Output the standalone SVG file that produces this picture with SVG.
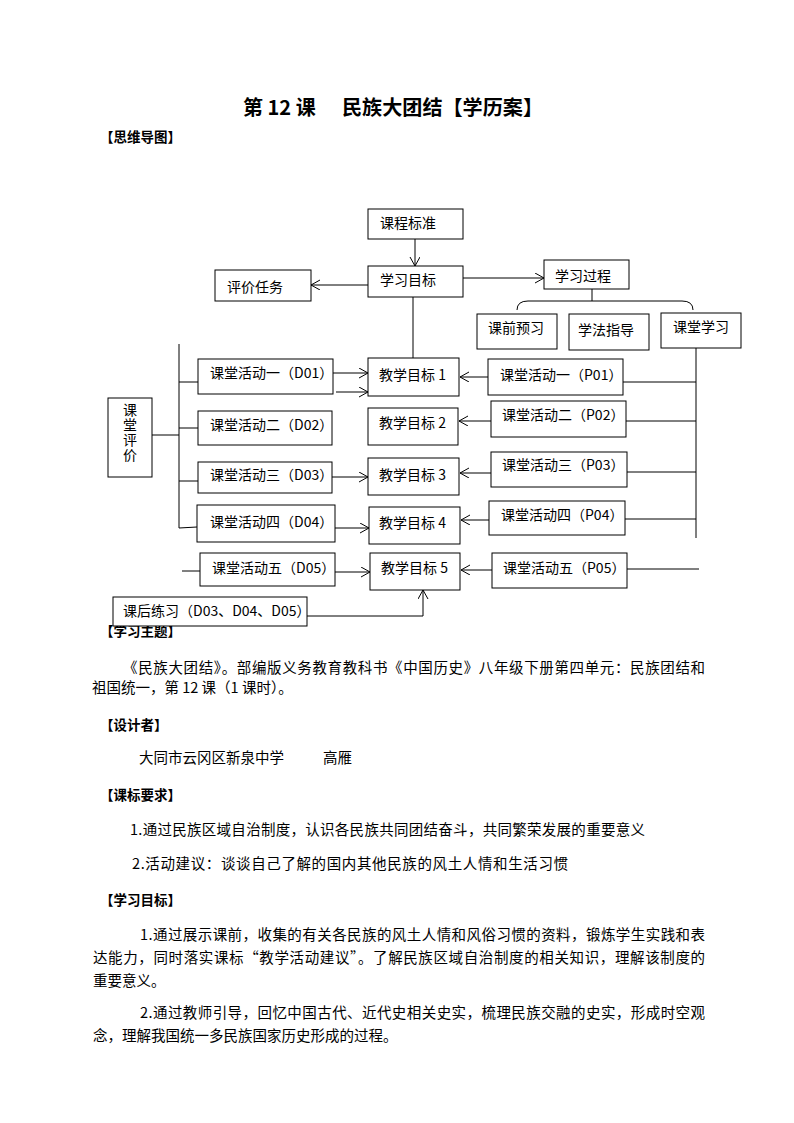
<svg xmlns="http://www.w3.org/2000/svg" width="794" height="1123" viewBox="0 0 794 1123">
<defs>
<style>
.t{font-family:"Noto Sans CJK SC","Liberation Sans",sans-serif;font-size:14px;fill:#000}
.b{font-family:"Noto Sans CJK SC","Liberation Sans",sans-serif;font-size:14.5px;fill:#000}
.h{font-family:"Noto Sans CJK SC","Liberation Sans",sans-serif;font-size:13.5px;font-weight:bold;fill:#000}
.ti{font-family:"Noto Sans CJK SC","Liberation Sans",sans-serif;font-size:20px;font-weight:bold;fill:#000}
.v{writing-mode:vertical-rl;text-orientation:upright;letter-spacing:1px}
.box{fill:#fff;stroke:#000;stroke-width:1}
.ln{fill:none;stroke:#000;stroke-width:1}
.ar{fill:none;stroke:#000;stroke-width:1;marker-end:url(#arr)}
</style>
<marker id="arr" markerUnits="userSpaceOnUse" markerWidth="12" markerHeight="12" refX="9" refY="5" orient="auto">
<path d="M0,0 L9,5 L0,10" fill="none" stroke="#000" stroke-width="1"/>
</marker>
</defs>
<rect width="794" height="1123" fill="#fff"/>

<g id="title">
<text class="ti" x="243" y="115">第 12 课</text>
<text class="ti" x="342" y="115" textLength="201" lengthAdjust="spacingAndGlyphs">民族大团结【学历案】</text>
</g>

<g id="body-text">
<text class="h" x="100" y="142">【思维导图】</text>
<text class="h" x="100" y="636">【学习主题】</text>
<text class="b" x="123" y="673" textLength="582" lengthAdjust="spacing">《民族大团结》。部编版义务教育教科书《中国历史》八年级下册第四单元：民族团结和</text>
<text class="b" x="92" y="693">祖国统一，第 12 课（1 课时）。</text>
<text class="h" x="100" y="730">【设计者】</text>
<text class="b" x="139" y="763">大同市云冈区新泉中学</text>
<text class="b" x="323" y="763">高雁</text>
<text class="h" x="100" y="800">【课标要求】</text>
<text class="b" x="130" y="835" textLength="515" lengthAdjust="spacing">1.通过民族区域自治制度，认识各民族共同团结奋斗，共同繁荣发展的重要意义</text>
<text class="b" x="132" y="869" textLength="436" lengthAdjust="spacing">2.活动建议：谈谈自己了解的国内其他民族的风土人情和生活习惯</text>
<text class="h" x="100" y="905">【学习目标】</text>
<text class="b" x="140" y="940" textLength="565" lengthAdjust="spacing">1.通过展示课前，收集的有关各民族的风土人情和风俗习惯的资料，锻炼学生实践和表</text>
<text class="b" x="93" y="963" textLength="612" lengthAdjust="spacing">达能力，同时落实课标“教学活动建议”。了解民族区域自治制度的相关知识，理解该制度的</text>
<text class="b" x="93" y="986">重要意义。</text>
<text class="b" x="140" y="1018" textLength="565" lengthAdjust="spacing">2.通过教师引导，回忆中国古代、近代史相关史实，梳理民族交融的史实，形成时空观</text>
<text class="b" x="93" y="1041">念，理解我国统一多民族国家历史形成的过程。</text>
</g>

<g id="connectors">
<line class="ar" x1="415" y1="239" x2="415" y2="266"/>
<line class="ar" x1="368" y1="285" x2="311" y2="285"/>
<line class="ar" x1="463" y1="278" x2="544" y2="278"/>
<line class="ln" x1="413" y1="297" x2="413" y2="358"/>
<line class="ln" x1="592" y1="289" x2="592" y2="301"/>
<path class="ln" d="M517,310 Q517,301 528,301 L682,301 Q693,301 693,310"/>
<line class="ln" x1="696" y1="348" x2="696" y2="538"/>
<line class="ln" x1="623" y1="382" x2="696" y2="382"/>
<line class="ln" x1="626" y1="421" x2="696" y2="421"/>
<line class="ln" x1="627" y1="472" x2="696" y2="472"/>
<line class="ln" x1="625" y1="519" x2="696" y2="519"/>
<line class="ln" x1="627" y1="569" x2="699" y2="569"/>
<line class="ar" x1="488" y1="377" x2="460" y2="377"/>
<line class="ar" x1="491" y1="421" x2="459" y2="421"/>
<line class="ar" x1="491" y1="473" x2="460" y2="473"/>
<line class="ar" x1="489" y1="520" x2="461" y2="520"/>
<line class="ar" x1="492" y1="570" x2="461" y2="570"/>
<line class="ln" x1="179" y1="344" x2="179" y2="528"/>
<line class="ln" x1="179" y1="382" x2="198" y2="382"/>
<line class="ln" x1="179" y1="428" x2="198" y2="428"/>
<line class="ln" x1="179" y1="481" x2="198" y2="481"/>
<line class="ln" x1="179" y1="528" x2="197" y2="527"/>
<line class="ln" x1="182" y1="571" x2="200" y2="571"/>
<line class="ln" x1="152" y1="435" x2="179" y2="435"/>
<line class="ar" x1="333" y1="373" x2="368" y2="373"/>
<line class="ar" x1="336" y1="392" x2="368" y2="392"/>
<line class="ar" x1="332" y1="477" x2="368" y2="477"/>
<line class="ar" x1="335" y1="528" x2="369" y2="528"/>
<line class="ar" x1="335" y1="572" x2="370" y2="572"/>
<polyline class="ar" points="307,616 423,616 423,590"/>
</g>

<g id="n-kcbz"><rect class="box" x="368" y="209" width="95" height="30"/><text class="t" x="380" y="228">课程标准</text></g>
<g id="n-xxmb"><rect class="box" x="368" y="266" width="95" height="31"/><text class="t" x="380" y="285">学习目标</text></g>
<g id="n-pjrw"><rect class="box" x="215" y="270" width="96" height="31"/><text class="t" x="227" y="292">评价任务</text></g>
<g id="n-xxgc"><rect class="box" x="544" y="260" width="85" height="29"/><text class="t" x="555" y="281">学习过程</text></g>
<g id="n-kqyx"><rect class="box" x="477" y="314" width="80" height="35"/><text class="t" x="488" y="333">课前预习</text></g>
<g id="n-xfzd"><rect class="box" x="569" y="314" width="80" height="36"/><text class="t" x="578" y="335">学法指导</text></g>
<g id="n-ktxx"><rect class="box" x="661" y="313" width="80" height="35"/><text class="t" x="673" y="332">课堂学习</text></g>
<g id="n-p01"><rect class="box" x="488" y="359" width="135" height="36"/><text class="t" x="500" y="380">课堂活动一（P01）</text></g>
<g id="n-p02"><rect class="box" x="491" y="401" width="135" height="36"/><text class="t" x="502" y="420">课堂活动二（P02）</text></g>
<g id="n-p03"><rect class="box" x="491" y="452" width="136" height="35"/><text class="t" x="502" y="470">课堂活动三（P03）</text></g>
<g id="n-p04"><rect class="box" x="489" y="501" width="136" height="34"/><text class="t" x="501" y="520">课堂活动四（P04）</text></g>
<g id="n-p05"><rect class="box" x="492" y="553" width="135" height="35"/><text class="t" x="503" y="573">课堂活动五（P05）</text></g>
<g id="n-d01"><rect class="box" x="198" y="359" width="135" height="35"/><text class="t" x="210" y="378">课堂活动一（D01）</text></g>
<g id="n-d02"><rect class="box" x="198" y="411" width="134" height="34"/><text class="t" x="210" y="430">课堂活动二（D02）</text></g>
<g id="n-d03"><rect class="box" x="198" y="462" width="134" height="31"/><text class="t" x="210" y="480">课堂活动三（D03）</text></g>
<g id="n-d04"><rect class="box" x="197" y="505" width="138" height="37"/><text class="t" x="210" y="527">课堂活动四（D04）</text></g>
<g id="n-d05"><rect class="box" x="200" y="553" width="135" height="33"/><text class="t" x="212" y="573">课堂活动五（D05）</text></g>
<g id="n-jx1"><rect class="box" x="368" y="358" width="91" height="38"/><text class="t" x="379" y="380">教学目标 1</text></g>
<g id="n-jx2"><rect class="box" x="368" y="408" width="90" height="37"/><text class="t" x="379" y="428">教学目标 2</text></g>
<g id="n-jx3"><rect class="box" x="368" y="458" width="91" height="37"/><text class="t" x="379" y="480">教学目标 3</text></g>
<g id="n-jx4"><rect class="box" x="369" y="507" width="91" height="37"/><text class="t" x="379" y="528">教学目标 4</text></g>
<g id="n-jx5"><rect class="box" x="370" y="553" width="90" height="37"/><text class="t" x="381" y="573">教学目标 5</text></g>
<g id="n-ktpj"><rect class="box" x="108" y="398" width="44" height="79"/>
<text class="t v" x="130" y="403">课堂评价</text></g>
<g id="n-khlx"><rect class="box" x="113" y="597" width="194" height="29"/><text class="t" x="123" y="616">课后练习（D03、D04、D05）</text></g>
</svg>
